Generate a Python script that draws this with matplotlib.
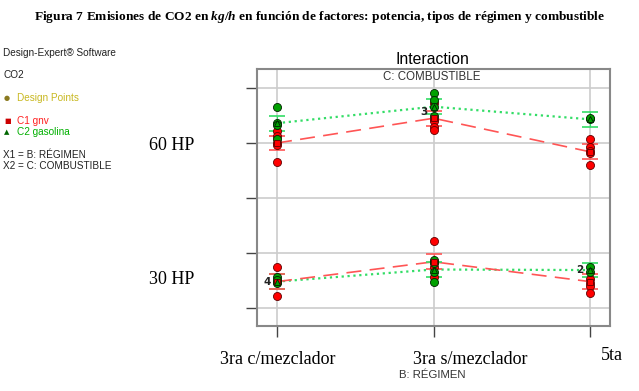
import matplotlib
matplotlib.use("Agg")
import matplotlib.pyplot as plt

plt.rcParams['mathtext.fontset'] = 'custom'
plt.rcParams['mathtext.rm'] = 'Liberation Serif:bold'
plt.rcParams['mathtext.it'] = 'Liberation Serif:italic:bold'

# B: RÉGIMEN levels
regimen = ["3ra c/mezclador", "3ra s/mezclador", "5ta"]
xpos = [0, 1, 2]

# means per fuel (60 HP block and 30 HP block)
mean_gnv_60 = [50.0, 54.5, 48.4]
mean_gas_60 = [53.6, 56.6, 54.3]
mean_gnv_30 = [24.8, 28.4, 24.8]
mean_gas_30 = [24.8, 27.0, 26.9]
lsd_half = 1.35

# design points
pts_gnv_60 = [[52.2, 51.3, 50.0, 49.6, 46.6],
              [57.3, 54.4, 54.0, 52.85, 52.4],
              [50.7, 49.2, 48.6, 48.1, 46.0]]
pts_gas_60 = [[56.5, 53.6, 50.7, 53.2],
              [59.0, 57.8, 56.6, 54.9],
              [54.3, 54.6]]
pts_gnv_30 = [[27.4, 24.8, 22.2],
              [32.1, 28.4, 27.4, 25.7],
              [25.2, 24.5, 24.0, 22.8]]
pts_gas_30 = [[25.7, 25.1, 24.5],
              [28.7, 28.1, 26.6, 24.7],
              [27.4, 26.6]]

# replicate counts shown next to points
counts = [(1, 55.6, "3"), (0, 24.8, "4"), (2, 26.9, "2")]

yticks = [20, 30, 40, 50, 60]

RED = '#ff0000'
GREEN = '#00a000'
RED_LINE = '#ff5555'
GREEN_LINE = '#33dd66'

fig = plt.figure(figsize=(6.39, 3.91), dpi=100)
ax = fig.add_axes([257 / 639, 65 / 391, 353 / 639, 257 / 391])

ax.set_xlim(-0.128, 2.128)
ax.set_ylim(16.73, 63.45)
ax.set_xticks(xpos)
ax.set_xticklabels([])
ax.set_yticks(yticks)
ax.set_yticklabels([])
ax.tick_params(axis='both', length=8, width=1, color='#444444', direction='out')
ax.grid(True, color='#cccccc', lw=1.2)
ax.set_axisbelow(True)
for s in ax.spines.values():
    s.set_color('#888888')
    s.set_linewidth(1.5)


def draw_block(m_gnv, m_gas, p_gnv, p_gas):
    ax.plot(xpos, m_gas, ':', color=GREEN_LINE, lw=1.6, zorder=2)
    ax.plot(xpos, m_gnv, '--', color=RED_LINE, lw=1.2, dashes=(9, 5), zorder=2)
    ax.errorbar(xpos, m_gas, yerr=lsd_half, fmt='none', ecolor=GREEN_LINE,
                elinewidth=0.8, capsize=6, capthick=1.2, zorder=3)
    ax.errorbar(xpos, m_gnv, yerr=lsd_half, fmt='none', ecolor=RED_LINE,
                elinewidth=0.8, capsize=6, capthick=1.2, zorder=3)
    for i, vals in enumerate(p_gnv):
        ax.plot([xpos[i]] * len(vals), vals, 'o', ms=5.8, mfc=RED,
                mec='#600000', mew=0.6, zorder=4)
    for i, vals in enumerate(p_gas):
        ax.plot([xpos[i]] * len(vals), vals, 'o', ms=5.8, mfc=GREEN,
                mec='#002000', mew=0.6, zorder=5)
    ax.plot(xpos, m_gnv, 's', ms=4.5, mfc=RED, mec='#600000', mew=0.6, zorder=6)
    ax.plot(xpos, m_gas, '^', ms=4.5, mfc=GREEN, mec='#002000', mew=0.6, zorder=6)


draw_block(mean_gnv_60, mean_gas_60, pts_gnv_60, pts_gas_60)
draw_block(mean_gnv_30, mean_gas_30, pts_gnv_30, pts_gas_30)

for xi, yi, c in counts:
    ax.text(xi - 0.04, yi, c, ha='right', va='center', fontsize=7.5,
            fontweight='bold', color='#222222', zorder=7)

# titles
fig.text(0.5, 1 - 17 / 391,
         "Figura 7 Emisiones de CO2 en $kg/h$ en función de factores: potencia, tipos de régimen y combustible",
         ha='center', va='center', fontsize=9.6, fontweight='bold',
         family='Liberation Serif')
fig.text(432 / 639, 1 - 60 / 391, "Interaction", ha='center', va='center',
         fontsize=11.3, family='Liberation Sans')
fig.text(432 / 639, 1 - 77 / 391, "C: COMBUSTIBLE", ha='center', va='center',
         fontsize=8.3, family='Liberation Sans', color='#333333')

# left side info
sans = 'Liberation Sans'
fs = 7.2
fig.text(3 / 639, 1 - 53 / 391, "Design-Expert® Software", fontsize=fs,
         family=sans, va='center', color='#222222')
fig.text(3 / 639, 1 - 75 / 391, "CO2", fontsize=fs, family=sans, va='center',
         color='#222222')
fig.text(4 / 639, 1 - 98 / 391, "●", fontsize=5, family='DejaVu Sans',
         va='center', color='#8a7a20')
fig.text(17 / 639, 1 - 98 / 391, "Design Points", fontsize=fs, family=sans,
         va='center', color='#c8b820')
fig.text(4 / 639, 1 - 121 / 391, "■", fontsize=5, family='DejaVu Sans',
         va='center', color='#cc0000')
fig.text(17 / 639, 1 - 121 / 391, "C1 gnv", fontsize=fs, family=sans,
         va='center', color='#ff2020')
fig.text(4 / 639, 1 - 132 / 391, "▲", fontsize=5, family='DejaVu Sans',
         va='center', color='#006600')
fig.text(17 / 639, 1 - 132 / 391, "C2 gasolina", fontsize=fs, family=sans,
         va='center', color='#00b000')
fig.text(3 / 639, 1 - 155 / 391, "X1 = B: RÉGIMEN", fontsize=fs, family=sans,
         va='center', color='#222222')
fig.text(3 / 639, 1 - 166 / 391, "X2 = C: COMBUSTIBLE", fontsize=fs,
         family=sans, va='center', color='#222222')

# potencia labels
fig.text(172 / 639, 1 - 146 / 391, "60 HP", fontsize=13, family='Liberation Serif',
         ha='center', va='center')
fig.text(172 / 639, 1 - 280 / 391, "30 HP", fontsize=13, family='Liberation Serif',
         ha='center', va='center')

# regimen labels
label_x = [278, 470, 612]
label_y = [359, 359, 355]
for lab, lx, ly in zip(regimen, label_x, label_y):
    fig.text(lx / 639, 1 - ly / 391, lab, fontsize=13, family='Liberation Serif',
             ha='center', va='center')
fig.text(432 / 639, 1 - 375 / 391, "B: RÉGIMEN", fontsize=8.2, family=sans,
         ha='center', va='center', color='#333333')

fig.savefig("out.png", dpi=100)
